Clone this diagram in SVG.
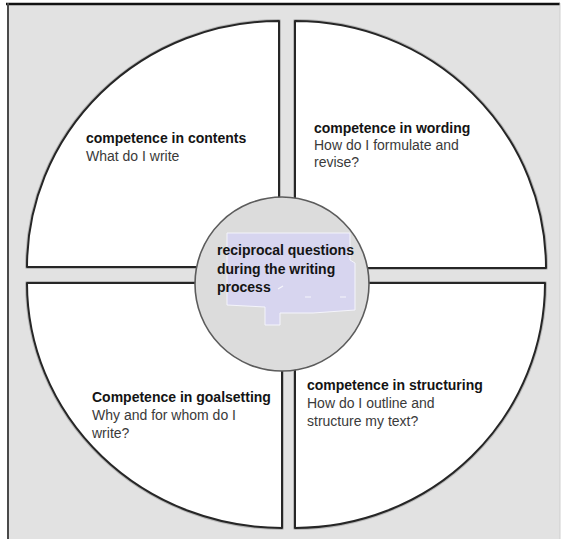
<svg xmlns="http://www.w3.org/2000/svg" width="566" height="542" viewBox="0 0 566 542">
  <defs>
    <style>
      .frame { fill: #e2e2e2; }
      .halo { fill: none; stroke: #9a9a9a; stroke-width: 4; stroke-linejoin: round; opacity: 0.6; }
      .quad { fill: #ffffff; stroke: #262626; stroke-width: 2; stroke-linejoin: round; }
      .hub { fill: #dcdcdc; stroke: #5c5c5c; stroke-width: 1.6; }
      .patch { fill: #d7d5ef; stroke: #f4f4fb; stroke-width: 1; }
      .speck { stroke: #f6f6fb; stroke-width: 1.2; fill: none; }
      .title { font-family: "Liberation Sans", Arial, sans-serif; font-size: 14px; font-weight: bold; fill: #141414; }
      .body { font-family: "Liberation Sans", Arial, sans-serif; font-size: 14px; fill: #3a3a3a; }
    </style>
  </defs>

  <!-- page frame -->
  <rect x="0" y="0" width="566" height="542" fill="#ffffff"/>
  <rect class="frame" x="7" y="3" width="553" height="536"/>
  <line x1="6" y1="4" x2="560" y2="4" stroke="#111111" stroke-width="2.5"/>
  <line x1="8" y1="3" x2="8" y2="539" stroke="#4a4a4a" stroke-width="2"/>
  <line x1="560" y1="3" x2="560" y2="539" stroke="#cfcfcf" stroke-width="1"/>

  <!-- connectors: none drawn separately; quadrant gaps form the cross -->
  <g id="connectors"></g>

  <!-- top-left quadrant -->
  <g id="quad-contents">
    <path class="halo" d="M279 267 L279 21 A252 246 0 0 0 27 267 Z"/>
    <path class="quad" d="M279 267 L279 21 A252 246 0 0 0 27 267 Z"/>
    <text class="title" x="86" y="143">competence in contents</text>
    <text class="body" x="86" y="161">What do I write</text>
  </g>

  <!-- top-right quadrant -->
  <g id="quad-wording">
    <path class="halo" d="M295 268 L295 21 A251 247 0 0 1 546 268 Z"/>
    <path class="quad" d="M295 268 L295 21 A251 247 0 0 1 546 268 Z"/>
    <text class="title" x="314" y="133">competence in wording</text>
    <text class="body" x="314" y="150">How do I formulate and</text>
    <text class="body" x="314" y="167">revise?</text>
  </g>

  <!-- bottom-left quadrant -->
  <g id="quad-goalsetting">
    <path class="halo" d="M282 283 L27 283 A255 245 0 0 0 282 528 Z"/>
    <path class="quad" d="M282 283 L27 283 A255 245 0 0 0 282 528 Z"/>
    <text class="title" x="92" y="402">Competence in goalsetting</text>
    <text class="body" x="92" y="420">Why and for whom do I</text>
    <text class="body" x="92" y="438">write?</text>
  </g>

  <!-- bottom-right quadrant -->
  <g id="quad-structuring">
    <path class="halo" d="M295 283 L545 283 A250 245 0 0 1 295 528 Z"/>
    <path class="quad" d="M295 283 L545 283 A250 245 0 0 1 295 528 Z"/>
    <text class="title" x="307" y="390">competence in structuring</text>
    <text class="body" x="307" y="408">How do I outline and</text>
    <text class="body" x="307" y="426">structure my text?</text>
  </g>

  <!-- centre hub -->
  <g id="hub">
    <circle class="hub" cx="282" cy="284" r="87"/>
    <path class="patch" d="M227 233 L350 233 L350 260 L355 263 L355 310 L327 312 L313 313 L280 313 L280 325 L265 325 L265 307 L227 305 Z"/>
    <path class="speck" d="M278 289 L283 286 M305 297 L311 297 M340 297 L346 297"/>
    <text class="title" x="217" y="255">reciprocal questions</text>
    <text class="title" x="217" y="274">during the writing</text>
    <text class="title" x="217" y="292">process</text>
  </g>
</svg>
